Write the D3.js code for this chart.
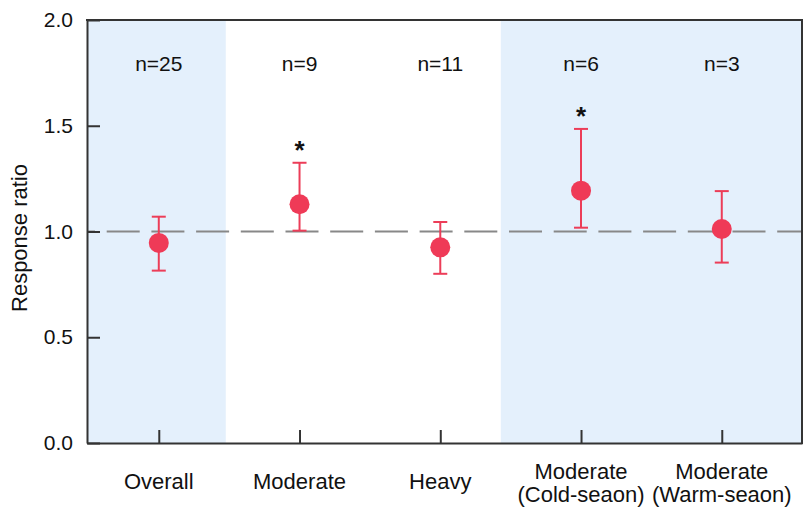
<!DOCTYPE html>
<html><head><meta charset="utf-8">
<script src="https://cdn.jsdelivr.net/npm/d3@7"></script>
<style>body{margin:0;background:#fff}svg{display:block}text{font-family:"Liberation Sans",Arial,sans-serif;fill:#111}</style>
</head><body><svg id="c" width="811" height="507"></svg>
<script>
const categories = [["Overall"], ["Moderate"], ["Heavy"], ["Moderate", "(Cold-seaon)"], ["Moderate", "(Warm-seaon)"]];
const nLabels = ["n=25", "n=9", "n=11", "n=6", "n=3"];
const means = [0.946, 1.129, 0.925, 1.193, 1.012];
const lower = [0.815, 1.004, 0.800, 1.018, 0.853];
const upper = [1.070, 1.325, 1.045, 1.485, 1.191];
const significant = [false, true, false, true, false];
const yTicks = [0.0, 0.5, 1.0, 1.5, 2.0];
const shadedRanges = [[0.49, 1.476], [3.43, 5.57]];
const reference = 1.0;

const svg = d3.select("#c");
const L = 87, R = 802, T = 20, B = 443;
const x = d3.scaleLinear().domain([0.49, 5.57]).range([L, R]);
const y = d3.scaleLinear().domain([0, 2]).range([B, T]);
const idx = categories.map((d, i) => i + 1);

// shaded bands
svg.selectAll("rect.band").data(shadedRanges).join("rect")
  .attr("x", d => x(d[0])).attr("width", d => x(d[1]) - x(d[0]))
  .attr("y", T).attr("height", B - T).attr("fill", "#e4f0fc");

// reference dashed line
svg.append("line").attr("x1", L).attr("x2", R).attr("y1", y(reference)).attr("y2", y(reference))
  .attr("stroke", "#888").attr("stroke-width", 2).attr("stroke-dasharray", "33,11.7").attr("stroke-dashoffset", 25);

// axes
const yAxis = d3.axisLeft(y).tickValues(yTicks).tickFormat(d3.format(".1f")).tickSizeInner(-13).tickSizeOuter(0).tickPadding(14);
const gy = svg.append("g").attr("transform", `translate(${L},0)`).call(yAxis);
const xAxis = d3.axisBottom(x).tickValues(idx).tickFormat("").tickSizeInner(-13).tickSizeOuter(0);
const gx = svg.append("g").attr("transform", `translate(0,${B})`).call(xAxis);
[gy, gx].forEach(g => {
  g.select(".domain").attr("stroke", "#333").attr("stroke-width", 2);
  g.selectAll(".tick line").attr("stroke", "#333").attr("stroke-width", 2);
});
gy.attr("font-size", null).attr("font-family", null);
gy.selectAll(".tick text").attr("font-size", 21).attr("fill", "#111");
// top & right frame
svg.append("line").attr("x1", L - 1).attr("x2", R + 1).attr("y1", T).attr("y2", T).attr("stroke", "#333").attr("stroke-width", 2);
svg.append("line").attr("x1", R).attr("x2", R).attr("y1", T).attr("y2", B + 1).attr("stroke", "#333").attr("stroke-width", 2);

// x labels
categories.forEach((lines, i) => {
  const t = svg.append("text").attr("text-anchor", "middle").attr("font-size", 22).attr("x", x(i + 1));
  if (lines.length === 1) t.attr("y", 489).text(lines[0]);
  else lines.forEach((s, k) => t.append("tspan").attr("x", x(i + 1)).attr("y", 479 + k * 23).text(s));
});

// n labels
svg.selectAll("text.n").data(nLabels).join("text").attr("class", "n")
  .attr("x", (d, i) => x(i + 1)).attr("y", 71).attr("text-anchor", "middle").attr("font-size", 21).text(d => d);

// y label
svg.append("text").attr("transform", `translate(27,238) rotate(-90)`)
  .attr("text-anchor", "middle").attr("font-size", 22).text("Response ratio");

// error bars
const col = "#ec3d58";
const g = svg.append("g");
idx.forEach((v, i) => {
  g.append("line").attr("x1", x(v)).attr("x2", x(v)).attr("y1", y(lower[i])).attr("y2", y(upper[i])).attr("stroke", col).attr("stroke-width", 2);
  [lower[i], upper[i]].forEach(b => g.append("line").attr("x1", x(v) - 7).attr("x2", x(v) + 7).attr("y1", y(b)).attr("y2", y(b)).attr("stroke", col).attr("stroke-width", 2));
});
g.selectAll("circle").data(means).join("circle").attr("cx", (d, i) => x(i + 1)).attr("cy", d => y(d)).attr("r", 10).attr("fill", "#ef3a57");

// asterisks
idx.forEach((v, i) => {
  if (significant[i]) svg.append("text").attr("x", x(v)).attr("y", y(upper[i]) - 4).attr("text-anchor", "middle")
    .attr("font-size", 26).attr("font-weight", "bold").text("*");
});
</script></body></html>
